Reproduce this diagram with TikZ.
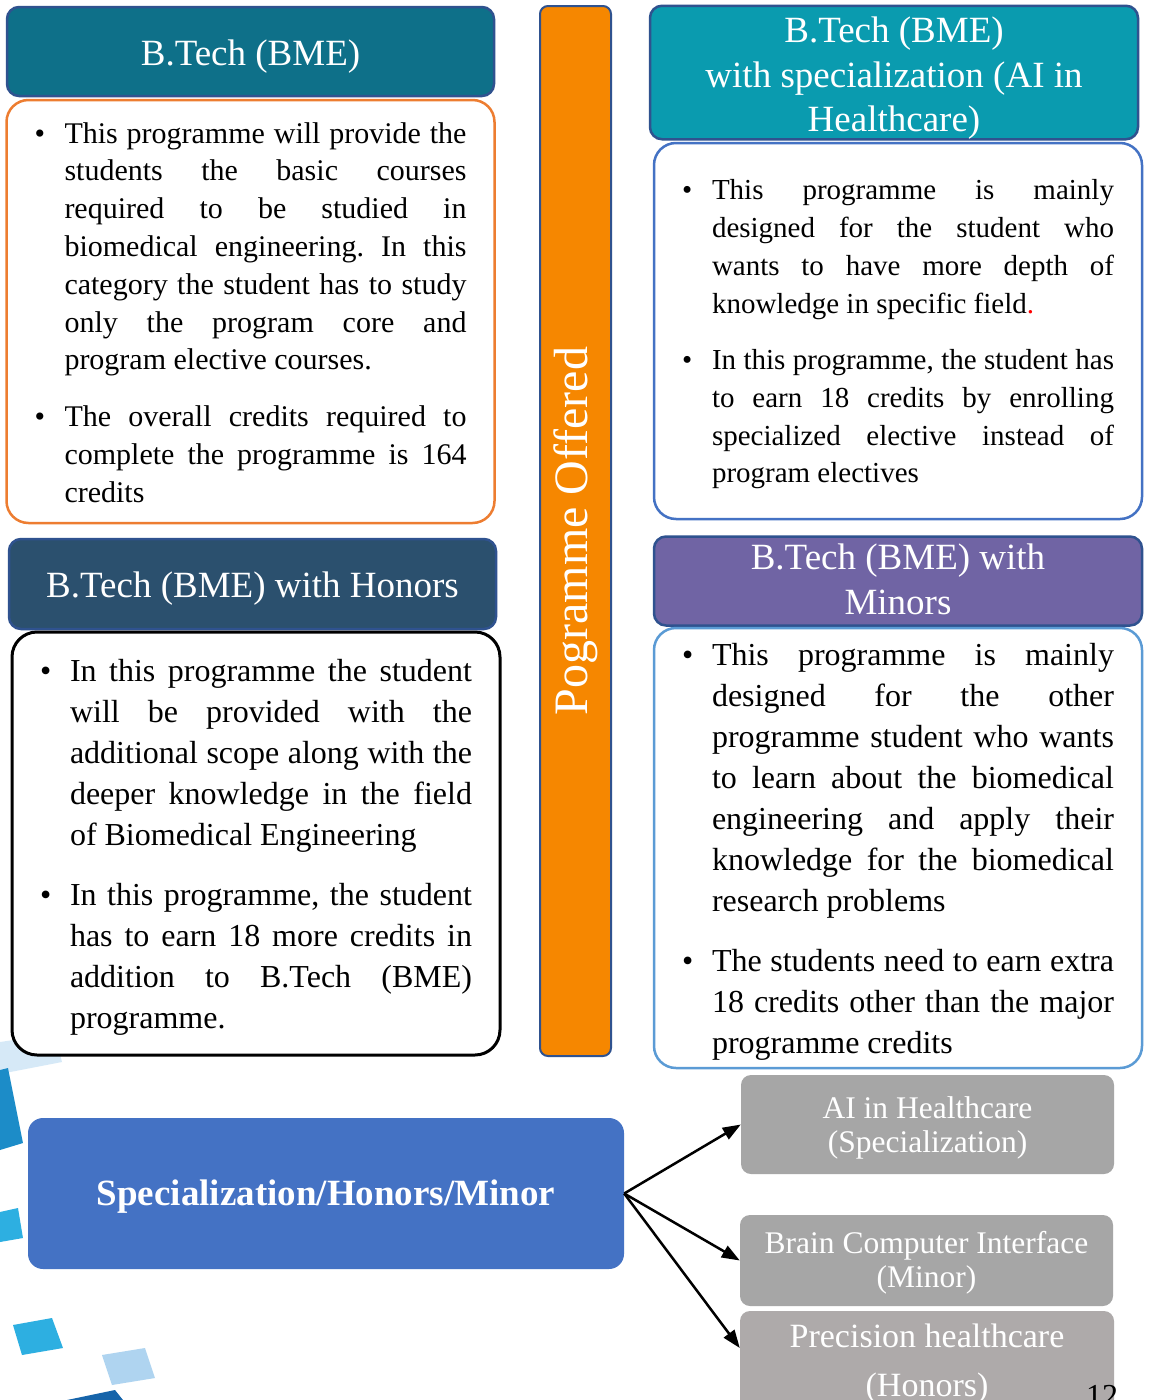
\documentclass[tikz,border=0pt]{standalone}
\usepackage{fontspec}
\setmainfont{Liberation Serif}
\usepackage{enumitem}
\usetikzlibrary{arrows.meta}

\definecolor{petrol}{RGB}{14,112,137}
\definecolor{navyslate}{RGB}{43,80,110}
\definecolor{lagoon}{RGB}{10,155,175}
\definecolor{lavender}{RGB}{112,100,164}
\definecolor{tangerine}{RGB}{246,135,0}
\definecolor{rimblue}{RGB}{47,82,143}
\definecolor{rimorange}{RGB}{237,125,49}
\definecolor{royal}{RGB}{68,114,196}
\definecolor{skyrim}{RGB}{91,155,213}
\definecolor{slate}{RGB}{166,166,166}
\definecolor{warmslate}{RGB}{174,170,170}
\definecolor{deepcyan}{RGB}{28,140,200}
\definecolor{brightcyan}{RGB}{45,175,225}
\definecolor{paleblue}{RGB}{175,212,240}
\definecolor{inkblue}{RGB}{22,100,170}

\newlist{pointlist}{itemize}{1}
\setlist[pointlist]{label=\textbullet, leftmargin=30pt, labelindent=0pt, labelwidth=10pt, labelsep=*, align=left, topsep=0pt, partopsep=0pt, parsep=0pt, itemsep=19pt}

% lowers a (multi-line) title inside its box without changing the box
\newcommand{\sunk}[2][5pt]{\raisebox{-#1}[\height][\depth]{\begin{tabular}{@{}c@{}}#2\end{tabular}}}
% shifts a bullet list inside its box without changing the box
\newcommand{\lifted}[2][-3.5pt]{\raisebox{#1}[\height][\depth]{\begin{minipage}{432pt}\begin{pointlist}#2\end{pointlist}\end{minipage}}}

\begin{document}
\begin{tikzpicture}[x=1pt, y=-1pt,
    headbox/.style={draw=rimblue, line width=2.5pt, rounded corners=12pt, text=white, align=center, inner sep=0pt, font=\fontsize{37}{44.5}\selectfont},
    bodybox/.style={line width=2.5pt, rounded corners=22pt, fill=white, inner xsep=28pt, inner ysep=0pt, text width=432pt, align=justify},
    tagbox/.style={fill=slate, rounded corners=10pt, text=white, align=center, minimum width=373pt, inner sep=0pt, font=\fontsize{31.5}{34}\selectfont},
    pointer/.style={-{Triangle[length=18pt,width=13pt]}, line width=2.5pt}]
        
        \path[fill=white] (0,0) rectangle (1150,1400);
        \useasboundingbox (0,0) rectangle (1150,1400);
        \frenchspacing
        
        % background squares
        \path[fill=paleblue,opacity=0.5] (0,1042) -- (55,1034) -- (62,1062) -- (0,1074) -- cycle;
        \path[fill=deepcyan] (0,1070) -- (8,1068) -- (23,1143) -- (0,1150) -- cycle;
        \path[fill=brightcyan] (0,1212) -- (18,1208) -- (23,1238) -- (0,1242) -- cycle;
        \path[fill=brightcyan] (13,1325) -- (52,1318) -- (63,1348) -- (22,1355) -- cycle;
        \path[fill=paleblue] (102,1355) -- (145,1348) -- (155,1378) -- (112,1385) -- cycle;
        \path[fill=inkblue] (67,1400) -- (115,1390) -- (123,1400) -- cycle;
        
        \node[headbox, fill=petrol, minimum width=487pt, minimum height=89pt] (bme) at (250.5,51.5) {\sunk{B.Tech (BME)}};
        \node[bodybox, draw=rimorange, minimum height=423pt, font=\fontsize{30}{37.8}\selectfont] (bmebody) at (250.5,311.5) {\lifted[-1pt]{%
            \item This programme will provide the\linebreak students the basic courses\linebreak required to be studied in\linebreak biomedical engineering. In this\linebreak category the student has to study\linebreak only the program core and\linebreak program elective courses.
            \item The overall credits required to\linebreak complete the programme is 164\linebreak credits}};
        
        \node[headbox, fill=navyslate, minimum width=487pt, minimum height=90pt] (honors) at (252.5,584) {\sunk{B.Tech (BME) with Honors}};
        \node[bodybox, draw=black, line width=3pt, rounded corners=25pt, minimum height=423pt, font=\fontsize{32}{41}\selectfont] (honorsbody) at (256,843.5) {\lifted{%
            \item In this programme the student\linebreak will be provided with the\linebreak additional scope along with the\linebreak deeper knowledge in the field\linebreak of Biomedical Engineering
            \item In this programme, the student\linebreak has to earn 18 more credits in\linebreak addition to B.Tech (BME)\linebreak programme.}};
        
        \node[draw=rimblue, line width=2pt, fill=tangerine, rounded corners=8pt, rotate=90, minimum width=1050pt, minimum height=71pt, inner sep=0pt, text=white, font=\fontsize{48}{48}\selectfont] (offered) at (575.5,531) {Pogramme Offered};
        
        \node[headbox, fill=lagoon, minimum width=488pt, minimum height=133pt] (special) at (894,72.5) {\sunk[6pt]{B.Tech (BME)\\with specialization (AI in\\Healthcare)}};
        \node[bodybox, draw=royal, minimum height=376pt, font=\fontsize{29}{37.7}\selectfont] (specialbody) at (898,331) {\lifted{%
            \item This programme is mainly\linebreak designed for the student who\linebreak wants to have more depth of\linebreak knowledge in specific field{\color{red}.}
            \item In this programme, the student has\linebreak to earn 18 credits by enrolling\linebreak specialized elective instead of\linebreak program electives}};
        
        \node[headbox, fill=lavender, minimum width=488pt, minimum height=86pt] (minors) at (898,581) {\sunk[2pt]{B.Tech (BME) with\\Minors}};
        \node[bodybox, draw=skyrim, minimum height=440pt, font=\fontsize{32}{41}\selectfont] (minorsbody) at (898,848) {\lifted{%
            \item This programme is mainly\linebreak designed for the other\linebreak programme student who wants\linebreak to learn about the biomedical\linebreak engineering and apply their\linebreak knowledge for the biomedical\linebreak research problems
            \item The students need to earn extra\linebreak 18 credits other than the major\linebreak programme credits}};
        
        \node[fill=royal, rounded corners=15pt, minimum width=596pt, minimum height=151pt, inner sep=0pt, text=white, font=\bfseries\fontsize{37}{44}\selectfont] (hub) at (326,1193.5) {\sunk[3pt]{Specialization/Honors/Minor}};
        
        \node[tagbox, minimum height=99pt] (aitag) at (927.5,1124.5) {\sunk[4pt]{AI in Healthcare\\(Specialization)}};
        \node[tagbox, minimum height=91pt] (bcitag) at (926.5,1260.5) {\sunk[3pt]{Brain Computer Interface\\(Minor)}};
        \node[tagbox, fill=warmslate, minimum width=374pt, minimum height=90pt, font=\fontsize{34}{49}\selectfont] (prectag) at (927,1360) {\sunk[2pt]{Precision healthcare\\(Honors)}};
        
        \draw[pointer] (hub.east) -- (aitag.west);
        \draw[pointer] (hub.east) -- (bcitag.west);
        \draw[pointer] (hub.east) -- ([yshift=12pt]prectag.west);
        
        \node[anchor=base, inner sep=0pt, font=\fontsize{32}{32}\selectfont] (pagenum) at (1102,1406) {12};
        
    \end{tikzpicture}
\end{document}
